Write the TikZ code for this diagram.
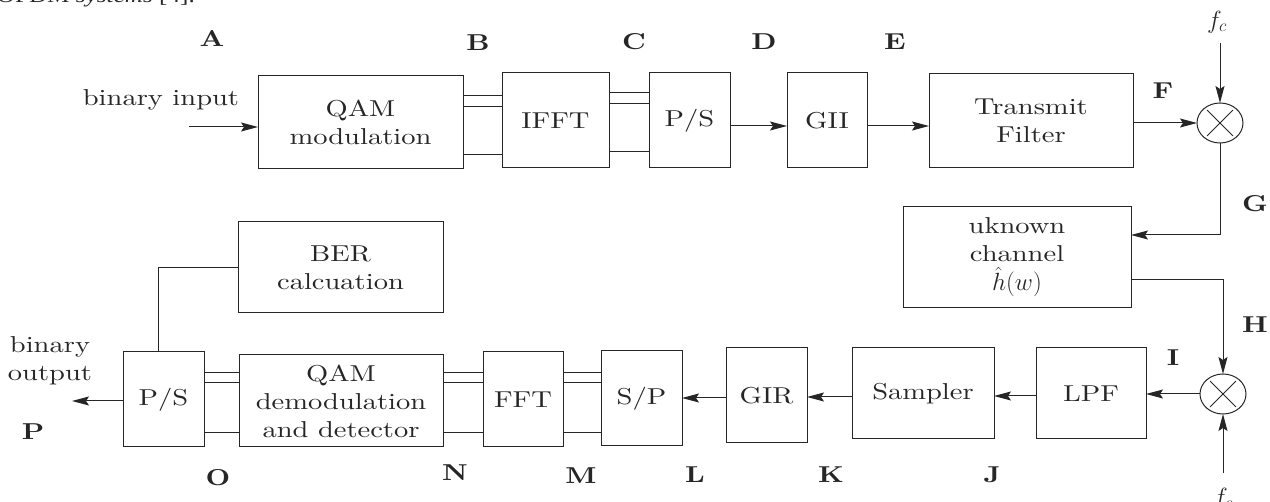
\documentclass[tikz,border=0pt]{standalone}
\usepackage{fontspec}
\setmainfont{lmroman10-regular.otf}[FakeStretch=1.24,BoldFont=lmroman10-bold.otf,ItalicFont=lmroman10-italic.otf]
\newfontfamily\pagefont{Liberation Serif}[FakeStretch=1.2]
\usepackage{tikz}
\usetikzlibrary{arrows.meta}
\usetikzlibrary{shapes.geometric}
\tikzstyle{Arrow}=[-{Stealth[length=17pt,width=9pt,inset=3pt]}]

\begin{document}
\begin{tikzpicture}[
  x=1pt, y=-1pt,
  color=black!85, line width=1pt,
  font=\fontsize{23}{28}\selectfont,
  Box/.style={draw, inner sep=0, outer sep=0, align=center},
  Mixer/.style={draw, ellipse, minimum width=46, minimum height=40, inner sep=0, outer sep=0},
  Tag/.style={font=\fontsize{23}{28}\selectfont\bfseries}
]
\useasboundingbox (0,0) rectangle (1270,502);

\node[font=\fontsize{21}{24}\pagefont, anchor=base west] (cap) at (-7,3) {OFDM \textit{systems} [4].};

% transmitter
\node[Box, minimum width=205, minimum height=93] (qam) at (360.5,122.5) {QAM\\modulation};
\node[Box, minimum width=107, minimum height=95] (ifft) at (555.5,120.5) {IFFT};
\node[Box, minimum width=81, minimum height=95] (ps) at (689.5,120.5) {P/S};
\node[Box, minimum width=80, minimum height=95] (gii) at (827,120.5) {GII};
\node[Box, minimum width=204, minimum height=94] (tf) at (1031,121) {Transmit\\Filter};
\node[Mixer] (mix1) at (1220,123) {};
\node (fc1) at (1217,22) {$f_c$};

% channel
\node[Box, minimum width=228, minimum height=101] (chan) at (1017,257.5) {uknown\\channel\\[1pt]$\hat{h}(w)$};

% receiver
\node[Mixer] (mix2) at (1223,394) {};
\node (fc2) at (1223,499) {$f_c$};
\node[Box, minimum width=110, minimum height=91] (lpf) at (1091,393.5) {LPF};
\node[Box, minimum width=142, minimum height=91] (smp) at (923,393.5) {Sampler};
\node[Box, minimum width=81, minimum height=95] (gir) at (766.5,395.5) {GIR};
\node[Box, minimum width=81, minimum height=95] (sp) at (641.5,398.5) {S/P};
\node[Box, minimum width=80, minimum height=95] (fft) at (523,399.5) {FFT};
\node[Box, minimum width=204, minimum height=92] (dem) at (341,401) {QAM\\demodulation\\and detector};
\node[Box, minimum width=81, minimum height=95] (ps2) at (163.5,399.5) {P/S};
\node[Box, minimum width=205, minimum height=91] (ber) at (340.5,267.5) {BER\\calcuation};

\node (bin) at (161,100) {binary input};
\node[align=center] (bout) at (50,361) {binary\\output};
\coordinate (in) at (189,127);
\coordinate (out) at (72,401);
\coordinate (fcin1) at (1220,43);
\coordinate (fcin2) at (1223,473);

% tags
\node[Tag] (ta) at (212,38) {A};
\node[Tag] (tb) at (478,43) {B};
\node[Tag] (tc) at (634,42) {C};
\node[Tag] (td) at (764,42) {D};
\node[Tag] (te) at (895,42) {E};
\node[Tag] (tf') at (1163,91) {F};
\node[Tag] (tg) at (1255,204) {G};
\node[Tag] (th) at (1255,325) {H};
\node[Tag] (ti) at (1173,358) {I};
\node[Tag] (tj) at (992,475) {J};
\node[Tag] (tk) at (831,475) {K};
\node[Tag] (tl) at (695,475) {L};
\node[Tag] (tm) at (581,476) {M};
\node[Tag] (tn) at (455,473) {N};
\node[Tag] (to) at (218,478) {O};
\node[Tag] (tp) at (33,432) {P};

% parallel lines
\draw (qam.east |- 0,96) -- (ifft.west |- 0,96);
\draw (qam.east |- 0,107) -- (ifft.west |- 0,107);
\draw (qam.east |- 0,155) -- (ifft.west |- 0,155);
\draw (ifft.east |- 0,93) -- (ps.west |- 0,93);
\draw (ifft.east |- 0,104) -- (ps.west |- 0,104);
\draw (ifft.east |- 0,152) -- (ps.west |- 0,152);
\draw (sp.west |- 0,373) -- (fft.east |- 0,373);
\draw (sp.west |- 0,383) -- (fft.east |- 0,383);
\draw (sp.west |- 0,433) -- (fft.east |- 0,433);
\draw (fft.west |- 0,373) -- (dem.east |- 0,373);
\draw (fft.west |- 0,383) -- (dem.east |- 0,383);
\draw (fft.west |- 0,433) -- (dem.east |- 0,433);
\draw (dem.west |- 0,373) -- (ps2.east |- 0,373);
\draw (dem.west |- 0,383) -- (ps2.east |- 0,383);
\draw (dem.west |- 0,433) -- (ps2.east |- 0,433);

% arrows
\draw[Arrow] (in) -- (qam.west |- in);
\draw[Arrow] (ps.east |- 0,126) -- (gii.west |- 0,126);
\draw[Arrow] (gii.east |- 0,126) -- (tf.west |- 0,126);
\draw[Arrow] (tf.east |- mix1.west) -- (mix1.west);
\draw[Arrow] (fcin1) -- (mix1.north);
\draw[Arrow] (mix1.south) |- (chan.east |- 0,235);
\draw[Arrow] (chan.east |- 0,280) -| (mix2.north);
\draw[Arrow] (fcin2) -- (mix2.south);
\draw[Arrow] (mix2.west) -- (lpf.east |- mix2.west);
\draw[Arrow] (lpf.west |- 0,396) -- (smp.east |- 0,396);
\draw[Arrow] (smp.west |- 0,397) -- (gir.east |- 0,397);
\draw[Arrow] (gir.west |- 0,398) -- (sp.east |- 0,398);
\draw[Arrow] (ps2.west |- out) -- (out);
\draw (ber.west |- 0,268) -| (158,0 |- ps2.north);

% mixer crosses
\draw[line width=0.8pt, shorten <=3pt, shorten >=3pt] (mix1.45) -- (mix1.225);
\draw[line width=0.8pt, shorten <=3pt, shorten >=3pt] (mix1.135) -- (mix1.315);
\draw[line width=0.8pt, shorten <=3pt, shorten >=3pt] (mix2.45) -- (mix2.225);
\draw[line width=0.8pt, shorten <=3pt, shorten >=3pt] (mix2.135) -- (mix2.315);

\end{tikzpicture}
\end{document}
